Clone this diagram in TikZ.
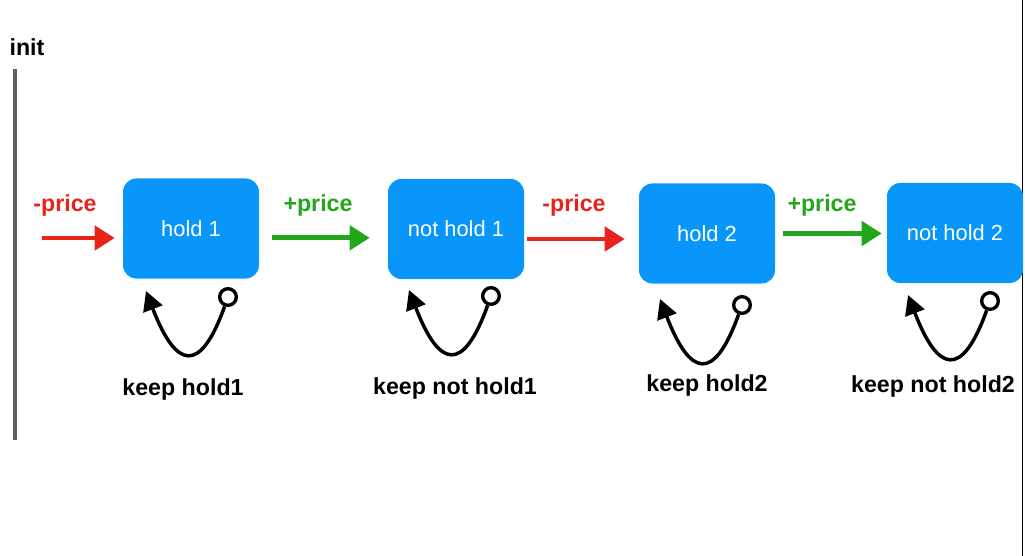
\documentclass[tikz,border=0pt]{standalone}
\usepackage{fontspec}
\setmainfont{Liberation Sans}
\usetikzlibrary{arrows.meta}
\definecolor{boxblue}{RGB}{8,150,250}
\definecolor{arrred}{RGB}{232,35,28}
\definecolor{arrgreen}{RGB}{34,166,26}
\definecolor{linegray}{RGB}{95,95,95}
\tikzset{
  statebox/.style={fill=boxblue, rounded corners=10pt, minimum width=102pt, minimum height=75pt, inner sep=0pt, text=white, font=\fontsize{16.4}{18}\selectfont},
  lbl/.style={font=\fontsize{17.4}{20}\selectfont\bfseries, anchor=base, inner sep=0pt},
  harrow/.style={line width=3.5pt, -{Triangle[length=15pt,width=18pt]}},
  redarrow/.style={harrow, draw=arrred},
  greenarrow/.style={harrow, draw=arrgreen},
  ring/.style={circle, draw=black, line width=2.5pt, minimum size=12.5pt, inner sep=0pt},
  selfloop/.style={draw=black, line width=2.6pt, -{Triangle[length=14.5pt,width=15pt]}}
}
\begin{document}
\begin{tikzpicture}[x=0.75pt, y=-0.75pt]
\useasboundingbox (0,0) rectangle (1025,556);
% right edge line and left init bar
\draw[line width=0.9pt] (1022.5,0) -- (1022.5,556);
\node[lbl] (init) at (27,56) {init};
\coordinate (bartop) at (15,69);
\coordinate (barbot) at (15,440);
\draw[linegray, line width=3pt] (bartop) -- (barbot);
% states
\node[statebox] (b1) at (191,228.5) {hold 1};
\node[statebox] (b2) at (456,229) {not hold 1};
\node[statebox] (b3) at (707,233.5) {hold 2};
\node[statebox] (b4) at (955,233) {not hold 2};
% transitions
\coordinate (s0) at (42,238);
\draw[redarrow, shorten >=6pt] (s0) -- (s0 -| b1.west);
\draw[greenarrow, shorten <=9.75pt, shorten >=13.5pt] ([yshift=-7pt]b1.east) -- ([yshift=-7pt]b1.east -| b2.west);
\draw[redarrow, shorten <=2.25pt, shorten >=10.5pt] ([yshift=-7.5pt]b2.east) -- ([yshift=-7.5pt]b2.east -| b3.west);
\draw[greenarrow, shorten <=6pt, shorten >=3.75pt] (b3.east) -- (b3.east -| b4.west);
\node[lbl, text=arrred] (l1) at (65,212) {-price};
\node[lbl, text=arrgreen] (l2) at (318,212) {+price};
\node[lbl, text=arrred] (l3) at (574,212) {-price};
\node[lbl, text=arrgreen] (l4) at (822,212) {+price};
% self loops
\node[ring] (c1) at (228,297) {};
\node[ring] (c2) at (491,296) {};
\node[ring] (c3) at (742,305) {};
\node[ring] (c4) at (990,301) {};
\coordinate (t1) at (146,291);
\coordinate (t2) at (409,290);
\coordinate (t3) at (660,299);
\coordinate (t4) at (908,295);
\draw[selfloop] (c1) .. controls +(-28,78) and +(30,78) .. (t1);
\draw[selfloop] (c2) .. controls +(-28,78) and +(30,78) .. (t2);
\draw[selfloop] (c3) .. controls +(-28,78) and +(30,78) .. (t3);
\draw[selfloop] (c4) .. controls +(-28,78) and +(30,78) .. (t4);
\node[lbl] (k1) at (183,395) {keep hold1};
\node[lbl] (k2) at (455,394) {keep not hold1};
\node[lbl] (k3) at (707,391) {keep hold2};
\node[lbl] (k4) at (933,392) {keep not hold2};
\end{tikzpicture}
\end{document}
